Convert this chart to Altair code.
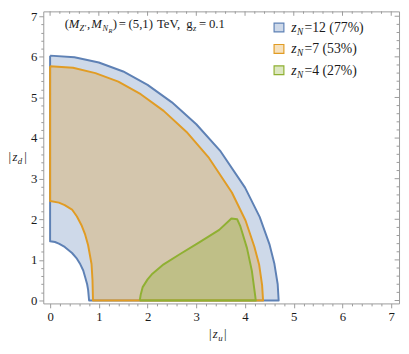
import altair as alt
import pandas as pd

# ---- region boundaries (|z_u|, |z_d|) ----
blue_outer_x = [0, 0.5, 1.0, 1.5, 2.0, 2.5, 3.0, 3.5, 4.0, 4.3, 4.5, 4.6, 4.67, 4.69]
blue_outer_y = [6.03, 5.99, 5.86, 5.64, 5.31, 4.88, 4.34, 3.67, 2.78, 2.06, 1.39, 0.92, 0.40, 0]
blue_inner_x = [0, 0.1, 0.18, 0.3, 0.45, 0.55, 0.62, 0.68, 0.72, 0.76, 0.78, 0.80]
blue_inner_y = [1.46, 1.44, 1.40, 1.32, 1.17, 1.03, 0.89, 0.74, 0.57, 0.40, 0.26, 0]
orange_outer_x = [0, 0.47, 0.93, 1.40, 1.86, 2.33, 2.80, 3.26, 3.73, 4.01, 4.19, 4.29, 4.35, 4.37]
orange_outer_y = [5.77, 5.73, 5.60, 5.39, 5.08, 4.67, 4.15, 3.51, 2.66, 1.97, 1.33, 0.88, 0.38, 0]
orange_inner_x = [0, 0.18, 0.3, 0.45, 0.55, 0.65, 0.72, 0.78, 0.85, 0.87, 0.88]
orange_inner_y = [2.45, 2.41, 2.35, 2.24, 2.07, 1.84, 1.62, 1.36, 0.90, 0.50, 0]
green_x = [1.84, 1.86, 1.90, 2.00, 2.10, 2.33, 2.66, 3.06, 3.47, 3.72, 3.84, 3.90, 4.04, 4.14, 4.21, 4.22]
green_y = [0, 0.15, 0.33, 0.52, 0.66, 0.89, 1.14, 1.43, 1.74, 2.02, 2.00, 1.84, 1.29, 0.73, 0.10, 0]

legend_n = ["12", "7", "4"]
legend_pct = ["77", "53", "27"]
colors = ["#5E81B5", "#E19C24", "#8FB032"]

major_ticks = [0, 1, 2, 3, 4, 5, 6, 7]
minor_ticks = [0.2, 0.4, 0.6, 0.8, 1.2, 1.4, 1.6, 1.8, 2.2, 2.4, 2.6, 2.8,
               3.2, 3.4, 3.6, 3.8, 4.2, 4.4, 4.6, 4.8, 5.2, 5.4, 5.6, 5.8,
               6.2, 6.4, 6.6, 6.8]
all_ticks = sorted(major_ticks + minor_ticks)

W, H = 363, 298
XD = [-0.14, 7.16]
YD = [-0.072, 7.12]
FONT = "Liberation Serif"
FRAME = "#9a9a9a"
TXT = "#1a1a1a"


def ring(ox, oy, ix, iy):
    pts = list(zip(ox, oy)) + list(zip(ix, iy))[::-1]
    pts.append(pts[0])
    return pd.DataFrame({"x": [p[0] for p in pts], "y": [p[1] for p in pts],
                         "i": list(range(len(pts)))})


def poly(xs, ys):
    pts = list(zip(xs, ys))
    pts.append(pts[0])
    return pd.DataFrame({"x": [p[0] for p in pts], "y": [p[1] for p in pts],
                         "i": list(range(len(pts)))})


xscale = alt.Scale(domain=XD, nice=False, zero=False)
yscale = alt.Scale(domain=YD, nice=False, zero=False)
lab_expr = "abs(datum.value - round(datum.value)) < 0.001 ? format(datum.value, 'd') : ''"
tsize = {"condition": {"test": "abs(datum.value - round(datum.value)) < 0.001", "value": 4.5}, "value": 2.5}

xaxis = alt.Axis(values=all_ticks, labelExpr=lab_expr, tickSize=tsize, domain=False,
                 grid=False, tickColor=FRAME, labelFont=FONT, labelFontSize=13,
                 labelColor=TXT, labelPadding=3, title=None, labelFlush=False,
                 labelOverlap=False)
yaxis = alt.Axis(values=all_ticks, labelExpr=lab_expr, tickSize=tsize, domain=False,
                 grid=False, tickColor=FRAME, labelFont=FONT, labelFontSize=13,
                 labelColor=TXT, labelPadding=2, title=None, labelFlush=False,
                 labelOverlap=False)

X = lambda f: alt.X(f, scale=xscale, axis=xaxis)
Y = lambda f: alt.Y(f, scale=yscale, axis=yaxis)


def region(df, color):
    return alt.Chart(df).mark_line(fill=color, fillOpacity=0.3, stroke=color,
                                   strokeWidth=2, strokeJoin="round").encode(
        x=X("x:Q"), y=Y("y:Q"), order="i:Q")


layers = [
    region(ring(blue_outer_x, blue_outer_y, blue_inner_x, blue_inner_y), colors[0]),
    region(ring(orange_outer_x, orange_outer_y, orange_inner_x, orange_inner_y), colors[1]),
    region(poly(green_x, green_y), colors[2]),
]

# inward ticks on the top and right frame edges
for vals, ln in ((major_ticks, 4.5), (minor_ticks, 2.5)):
    tk = pd.DataFrame({"x": vals, "y": vals})
    layers.append(alt.Chart(tk).mark_rule(color=FRAME, strokeWidth=1).encode(
        x=X("x:Q"), y=alt.value(0), y2=alt.value(ln)))
    layers.append(alt.Chart(tk).mark_rule(color=FRAME, strokeWidth=1).encode(
        y=Y("y:Q"), x=alt.value(W), x2=alt.value(W - ln)))

dummy = pd.DataFrame({"a": [0]})


def txt(s, px, py, size=13, italic=False, align="left"):
    return alt.Chart(dummy).mark_text(
        text=s, align=align, baseline="alphabetic", font=FONT, fontSize=size,
        fontStyle="italic" if italic else "normal", color=TXT
    ).encode(x=alt.value(px - 44), y=alt.value(py - 8))


# annotation (M_Z',M_N_R)=(5,1) TeV, g_z=0.1
ay = 25
AS = 13
SS = 8.5
layers += [
    txt("(", 66, ay, AS), txt("M", 70, ay, AS, True),
    txt("Z\u2032", 81, ay + 3, SS, True),
    txt(",", 88.5, ay, AS), txt("M", 93, ay, AS, True),
    txt("N", 104.5, ay + 3, SS, True), txt("R", 110.5, ay + 5, 6.5, True),
    txt(")", 115, ay, AS), txt("=", 121, ay, AS),
    txt("(5,1)", 131, ay, AS), txt("TeV,", 160, ay, AS),
    txt("g", 190, ay, AS), txt("z", 196.8, ay + 3, SS, True),
    txt("=", 203, ay, AS), txt("0.1", 213, ay, AS),
]

# legend
LS = 14
for k in range(3):
    cy = 24.5 + 21.8 * k
    layers.append(alt.Chart(dummy).mark_rect(
        fill=colors[k], fillOpacity=0.3, stroke=colors[k], strokeWidth=1.2
    ).encode(x=alt.value(279.5 - 44), x2=alt.value(289.5 - 44),
             y=alt.value(cy - 4.5 - 8), y2=alt.value(cy + 4.5 - 8)))
    layers.append(txt("z", 297, cy + 4.5, LS, True))
    layers.append(txt("N", 303, cy + 7.5, 9.5, True))
    layers.append(txt("=" + legend_n[k] + " (" + legend_pct[k] + "%)", 310.5, cy + 4.5, LS))

# axis titles
layers += [
    txt("|", 213, 341, 13), txt("z", 217, 341, 13, True), txt("u", 222.5, 344, 9, True),
    txt("|", 228.5, 341, 13),
    txt("|", 8.5, 161, 13), txt("z", 12.5, 161, 13, True), txt("d", 18, 164, 9, True),
    txt("|", 24.5, 161, 13),
]

chart = alt.layer(*layers).properties(
    width=W, height=H,
    autosize=alt.AutoSizeParams(type="none"),
    padding={"left": 36, "top": 0, "right": 2, "bottom": 40},
).configure_view(stroke=FRAME, strokeWidth=1)

chart.save("out.html", embed_options={"renderer": "svg", "actions": False})
